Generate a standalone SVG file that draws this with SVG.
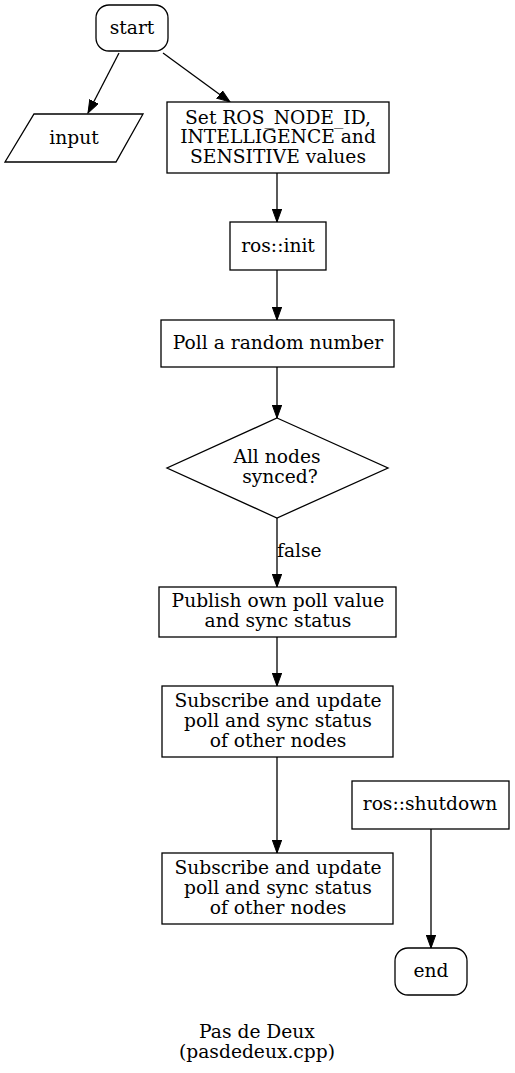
<svg xmlns="http://www.w3.org/2000/svg" width="515" height="1073" viewBox="0 0 515 1073">
<defs>
<marker id="ah" markerWidth="14" markerHeight="10" refX="13" refY="4.7" orient="auto" markerUnits="userSpaceOnUse">
<path d="M0,0 L13,4.7 L0,9.4 z" fill="#000" stroke="#000" stroke-width="1"/>
</marker>
<style>
.n{fill:#fff;stroke:#000;stroke-width:1.3}
.t{font-family:"DejaVu Serif",serif;font-size:18.67px;text-anchor:middle;fill:#000}
.e{stroke:#000;stroke-width:1.3;fill:none;marker-end:url(#ah)}
</style>
</defs>
<rect width="515" height="1073" fill="#fff"/>
<g id="connectors">
<line class="e" x1="119" y1="53" x2="88" y2="113"/>
<line class="e" x1="163" y1="53" x2="230" y2="102"/>
<line class="e" x1="277" y1="173" x2="277" y2="222"/>
<line class="e" x1="277" y1="270" x2="277" y2="320"/>
<line class="e" x1="277" y1="367" x2="277" y2="418"/>
<line class="e" x1="277" y1="518" x2="277" y2="587"/>
<text x="277" y="557" class="t" style="text-anchor:start">false</text>
<line class="e" x1="277" y1="637" x2="277" y2="686"/>
<line class="e" x1="277" y1="757" x2="277" y2="853"/>
<line class="e" x1="431" y1="829" x2="431" y2="948"/>
</g>
<g id="start"><rect class="n" x="96" y="5" width="72" height="46" rx="13"/><text class="t" x="132" y="34">start</text></g>
<g id="input"><polygon class="n" points="34,114 143,114 116,162 5,162"/><text class="t" x="74" y="144">input</text></g>
<g id="set"><rect class="n" x="167" y="102" width="222" height="71"/><text class="t" x="278" y="124">Set ROS_NODE_ID,</text><text class="t" x="278" y="143">INTELLIGENCE and</text><text class="t" x="278" y="163">SENSITIVE values</text></g>
<g id="init"><rect class="n" x="230" y="222" width="96" height="48"/><text class="t" x="278" y="252">ros::init</text></g>
<g id="poll"><rect class="n" x="161" y="320" width="233" height="47"/><text class="t" x="278" y="349">Poll a random number</text></g>
<g id="synced"><polygon class="n" points="277,418 388,468 277,518 167,468"/><text class="t" x="277" y="463">All nodes</text><text class="t" x="280" y="483">synced?</text></g>
<g id="publish"><rect class="n" x="159" y="587" width="237" height="50"/><text class="t" x="278" y="607">Publish own poll value</text><text class="t" x="278" y="627">and sync status</text></g>
<g id="sub1"><rect class="n" x="162" y="686" width="231" height="71"/><text class="t" x="278" y="707">Subscribe and update</text><text class="t" x="278" y="727">poll and sync status</text><text class="t" x="278" y="747">of other nodes</text></g>
<g id="sub2"><rect class="n" x="162" y="853" width="231" height="71"/><text class="t" x="278" y="874">Subscribe and update</text><text class="t" x="278" y="894">poll and sync status</text><text class="t" x="278" y="914">of other nodes</text></g>
<g id="shutdown"><rect class="n" x="352" y="781" width="157" height="48"/><text class="t" x="430" y="810">ros::shutdown</text></g>
<g id="end"><rect class="n" x="395" y="948" width="72" height="47" rx="13"/><text class="t" x="431" y="977">end</text></g>
<g id="title"><text class="t" x="257" y="1038">Pas de Deux</text><text class="t" x="257" y="1058">(pasdedeux.cpp)</text></g>
</svg>
